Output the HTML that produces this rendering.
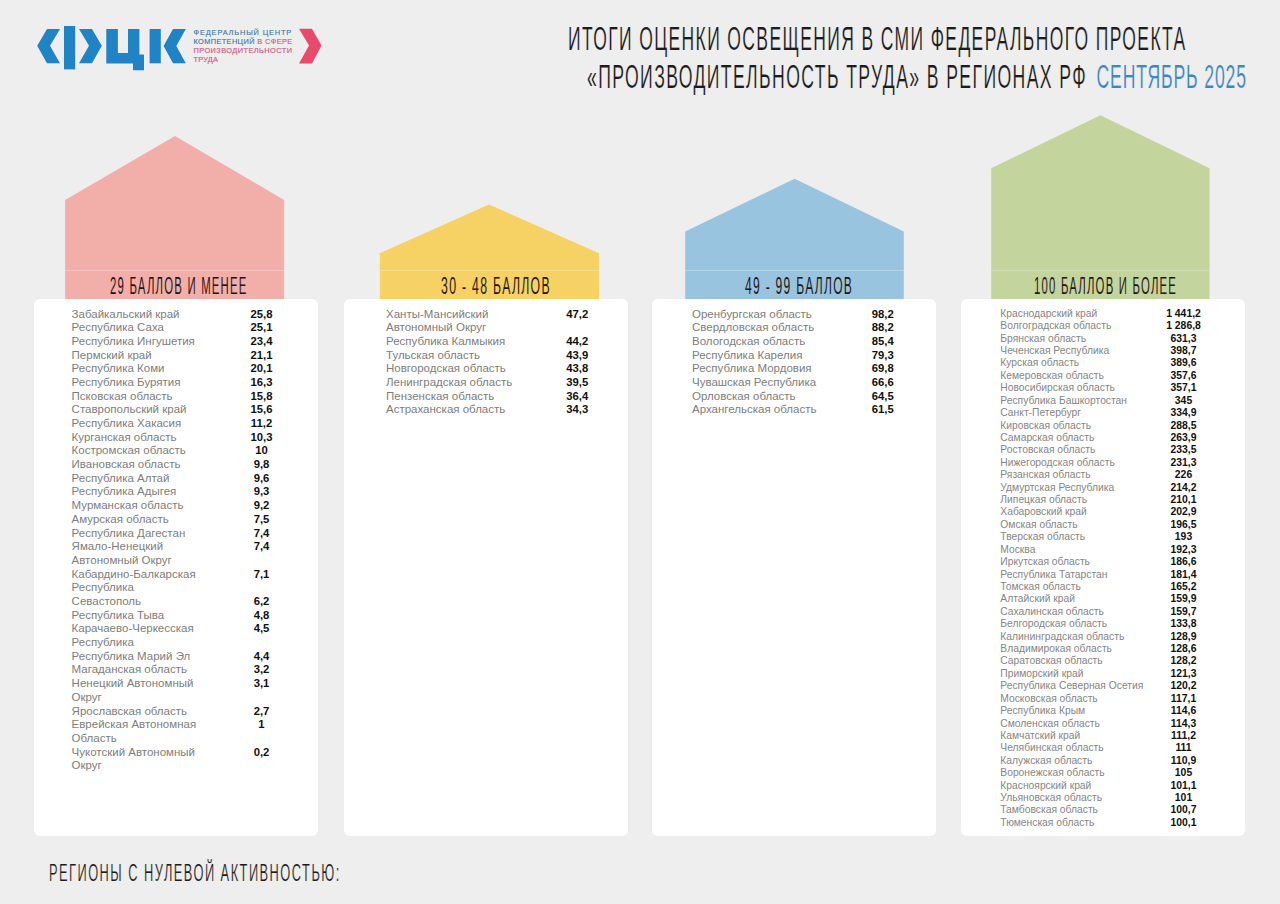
<!DOCTYPE html>
<html><head><meta charset="utf-8">
<style>
html,body{margin:0;padding:0}
body{width:1280px;height:904px;background:#eeeeee;position:relative;overflow:hidden;font-family:"Liberation Sans",sans-serif}
.abs{position:absolute}
.card{position:absolute;background:#fff;border-radius:6px;top:299.3px;height:536.5px;width:284px}
.r1{position:absolute;height:13.69px;line-height:13.69px;font-size:11.5px;white-space:nowrap}
.r4{position:absolute;height:12.415px;line-height:12.415px;font-size:10.3px;white-space:nowrap}
.n{color:#7d7d7d}
.r4.n{color:#858585}
.r1.n{transform:scaleX(1.0);transform-origin:0 0}
.r4.n{transform:scaleX(1.0);transform-origin:0 0}
.v{color:#111;font-weight:bold;width:120px;text-align:center}
.r1.v{font-size:11.3px}
.r4.v{font-size:10.4px}
.cond{position:absolute;white-space:nowrap;transform-origin:0 0;letter-spacing:2.6px;color:#1c1c1c;font-weight:normal;-webkit-text-stroke:0.2px #eeeeee}
.lt{position:absolute;white-space:nowrap;font-weight:normal;-webkit-text-stroke:0.15px currentColor;font-size:7.4px;line-height:9.3px;transform-origin:0 0}
</style></head><body>
<svg class="abs" style="left:0;top:0" width="1280" height="904" viewBox="0 0 1280 904">
<g fill="#1f83c6">
<polygon points="47,29 60,29 50,45.8 60,63.3 47,63.3 37.2,45.8"/>
<rect x="64" y="26" width="11.2" height="43.4"/>
<polygon points="79,29 92,29 101.8,45.8 92,63.3 79,63.3 89,45.8"/>
<polygon points="106.3,29 117.9,29 117.9,53 128,53 128,29 139.4,29 139.4,54.5 144,54.5 144,70.3 133,70.3 133,63.6 106.3,63.6"/>
<rect x="149.6" y="29" width="11.2" height="34.3"/>
<polygon points="173,29 185.8,29 176.3,46 185.8,63.3 173,63.3 163.6,46"/>
</g>
<polygon fill="#e84a6c" points="299,28.8 312,28.8 321.5,45.5 312,63.4 299,63.4 309,45.5"/>
<polygon fill="#f2aea8" points="65.1,200 175,136 284.1,200 284.1,300 65.1,300"/>
<polygon fill="#f5d263" points="379.8,253.3 489,204.5 599,253.3 599,300 379.8,300"/>
<polygon fill="#98c4df" points="685.2,231.5 794.6,178.7 903.8,231.5 903.8,300 685.2,300"/>
<polygon fill="#c3d59d" points="991.2,168.2 1100.4,115.3 1209.6,168.2 1209.6,300 991.2,300"/>
<g fill="#ffffff" fill-opacity="0.25">
<rect x="65.1" y="270" width="219" height="1"/>
<rect x="379.8" y="270" width="219.2" height="1"/>
<rect x="685.2" y="270" width="218.6" height="1"/>
<rect x="991.2" y="270" width="218.4" height="1"/>
</g>
</svg>
<div class="lt" style="left:193.5px;top:27.8px;color:#3d7aa5;letter-spacing:0.85px">ФЕДЕРАЛЬНЫЙ ЦЕНТР</div>
<div class="lt" style="left:193.5px;top:37.1px;color:#3d7aa5;letter-spacing:0.37px">КОМПЕТЕНЦИЙ <span style="color:#d0587c">В СФЕРЕ</span></div>
<div class="lt" style="left:193.5px;top:46.400000000000006px;color:#d0587c;letter-spacing:0.42px">ПРОИЗВОДИТЕЛЬНОСТИ</div>
<div class="lt" style="left:193.5px;top:55.3px;color:#d0587c;letter-spacing:0.2px">ТРУДА</div>

<div class="cond" style="left:568px;top:19.8px;font-size:33px;transform:scaleX(0.53)">ИТОГИ ОЦЕНКИ ОСВЕЩЕНИЯ В СМИ ФЕДЕРАЛЬНОГО ПРОЕКТА</div>
<div class="cond" style="left:587px;top:57.8px;font-size:33px;transform:scaleX(0.534)">«ПРОИЗВОДИТЕЛЬНОСТЬ ТРУДА» В РЕГИОНАХ РФ <span style="color:#3d87c2;margin-left:6px;letter-spacing:1.6px">СЕНТЯБРЬ 2025</span></div>

<div class="cond" style="left:110px;top:271.8px;font-size:24.5px;transform:scaleX(0.464);color:#1e1414;-webkit-text-stroke:0.1px #f2aea8">29 БАЛЛОВ И МЕНЕЕ</div>
<div class="cond" style="left:441px;top:271.8px;font-size:24.5px;transform:scaleX(0.501);color:#1e1414;-webkit-text-stroke:0.1px #f5d263">30 - 48 БАЛЛОВ</div>
<div class="cond" style="left:745px;top:271.8px;font-size:24.5px;transform:scaleX(0.493);color:#1e1414;-webkit-text-stroke:0.1px #98c4df">49 - 99 БАЛЛОВ</div>
<div class="cond" style="left:1034px;top:271.8px;font-size:24.5px;transform:scaleX(0.463);color:#1e1414;-webkit-text-stroke:0.1px #c3d59d">100 БАЛЛОВ И БОЛЕЕ</div>

<div class="card" style="left:34.3px"></div>
<div class="card" style="left:343.6px"></div>
<div class="card" style="left:652px"></div>
<div class="card" style="left:960.8px"></div>

<div class="r1 n" style="left:71.6px;top:307.50px">Забайкальский край</div>
<div class="r1 v" style="left:201.5px;top:307.50px">25,8</div>
<div class="r1 n" style="left:71.6px;top:321.19px">Республика Саха</div>
<div class="r1 v" style="left:201.5px;top:321.19px">25,1</div>
<div class="r1 n" style="left:71.6px;top:334.88px">Республика Ингушетия</div>
<div class="r1 v" style="left:201.5px;top:334.88px">23,4</div>
<div class="r1 n" style="left:71.6px;top:348.57px">Пермский край</div>
<div class="r1 v" style="left:201.5px;top:348.57px">21,1</div>
<div class="r1 n" style="left:71.6px;top:362.26px">Республика Коми</div>
<div class="r1 v" style="left:201.5px;top:362.26px">20,1</div>
<div class="r1 n" style="left:71.6px;top:375.95px">Республика Бурятия</div>
<div class="r1 v" style="left:201.5px;top:375.95px">16,3</div>
<div class="r1 n" style="left:71.6px;top:389.64px">Псковская область</div>
<div class="r1 v" style="left:201.5px;top:389.64px">15,8</div>
<div class="r1 n" style="left:71.6px;top:403.33px">Ставропольский край</div>
<div class="r1 v" style="left:201.5px;top:403.33px">15,6</div>
<div class="r1 n" style="left:71.6px;top:417.02px">Республика Хакасия</div>
<div class="r1 v" style="left:201.5px;top:417.02px">11,2</div>
<div class="r1 n" style="left:71.6px;top:430.71px">Курганская область</div>
<div class="r1 v" style="left:201.5px;top:430.71px">10,3</div>
<div class="r1 n" style="left:71.6px;top:444.40px">Костромская область</div>
<div class="r1 v" style="left:201.5px;top:444.40px">10</div>
<div class="r1 n" style="left:71.6px;top:458.09px">Ивановская область</div>
<div class="r1 v" style="left:201.5px;top:458.09px">9,8</div>
<div class="r1 n" style="left:71.6px;top:471.78px">Республика Алтай</div>
<div class="r1 v" style="left:201.5px;top:471.78px">9,6</div>
<div class="r1 n" style="left:71.6px;top:485.47px">Республика Адыгея</div>
<div class="r1 v" style="left:201.5px;top:485.47px">9,3</div>
<div class="r1 n" style="left:71.6px;top:499.16px">Мурманская область</div>
<div class="r1 v" style="left:201.5px;top:499.16px">9,2</div>
<div class="r1 n" style="left:71.6px;top:512.85px">Амурская область</div>
<div class="r1 v" style="left:201.5px;top:512.85px">7,5</div>
<div class="r1 n" style="left:71.6px;top:526.54px">Республика Дагестан</div>
<div class="r1 v" style="left:201.5px;top:526.54px">7,4</div>
<div class="r1 n" style="left:71.6px;top:540.23px">Ямало-Ненецкий</div>
<div class="r1 v" style="left:201.5px;top:540.23px">7,4</div>
<div class="r1 n" style="left:71.6px;top:553.92px">Автономный Округ</div>
<div class="r1 n" style="left:71.6px;top:567.61px">Кабардино-Балкарская</div>
<div class="r1 v" style="left:201.5px;top:567.61px">7,1</div>
<div class="r1 n" style="left:71.6px;top:581.30px">Республика</div>
<div class="r1 n" style="left:71.6px;top:594.99px">Севастополь</div>
<div class="r1 v" style="left:201.5px;top:594.99px">6,2</div>
<div class="r1 n" style="left:71.6px;top:608.68px">Республика Тыва</div>
<div class="r1 v" style="left:201.5px;top:608.68px">4,8</div>
<div class="r1 n" style="left:71.6px;top:622.37px">Карачаево-Черкесская</div>
<div class="r1 v" style="left:201.5px;top:622.37px">4,5</div>
<div class="r1 n" style="left:71.6px;top:636.06px">Республика</div>
<div class="r1 n" style="left:71.6px;top:649.75px">Республика Марий Эл</div>
<div class="r1 v" style="left:201.5px;top:649.75px">4,4</div>
<div class="r1 n" style="left:71.6px;top:663.44px">Магаданская область</div>
<div class="r1 v" style="left:201.5px;top:663.44px">3,2</div>
<div class="r1 n" style="left:71.6px;top:677.13px">Ненецкий Автономный</div>
<div class="r1 v" style="left:201.5px;top:677.13px">3,1</div>
<div class="r1 n" style="left:71.6px;top:690.82px">Округ</div>
<div class="r1 n" style="left:71.6px;top:704.51px">Ярославская область</div>
<div class="r1 v" style="left:201.5px;top:704.51px">2,7</div>
<div class="r1 n" style="left:71.6px;top:718.20px">Еврейская Автономная</div>
<div class="r1 v" style="left:201.5px;top:718.20px">1</div>
<div class="r1 n" style="left:71.6px;top:731.89px">Область</div>
<div class="r1 n" style="left:71.6px;top:745.58px">Чукотский Автономный</div>
<div class="r1 v" style="left:201.5px;top:745.58px">0,2</div>
<div class="r1 n" style="left:71.6px;top:759.27px">Округ</div>
<div class="r1 n" style="left:386px;top:307.50px">Ханты-Мансийский</div>
<div class="r1 v" style="left:517.2px;top:307.50px">47,2</div>
<div class="r1 n" style="left:386px;top:321.19px">Автономный Округ</div>
<div class="r1 n" style="left:386px;top:334.88px">Республика Калмыкия</div>
<div class="r1 v" style="left:517.2px;top:334.88px">44,2</div>
<div class="r1 n" style="left:386px;top:348.57px">Тульская область</div>
<div class="r1 v" style="left:517.2px;top:348.57px">43,9</div>
<div class="r1 n" style="left:386px;top:362.26px">Новгородская область</div>
<div class="r1 v" style="left:517.2px;top:362.26px">43,8</div>
<div class="r1 n" style="left:386px;top:375.95px">Ленинградская область</div>
<div class="r1 v" style="left:517.2px;top:375.95px">39,5</div>
<div class="r1 n" style="left:386px;top:389.64px">Пензенская область</div>
<div class="r1 v" style="left:517.2px;top:389.64px">36,4</div>
<div class="r1 n" style="left:386px;top:403.33px">Астраханская область</div>
<div class="r1 v" style="left:517.2px;top:403.33px">34,3</div>
<div class="r1 n" style="left:692px;top:307.50px">Оренбургская область</div>
<div class="r1 v" style="left:822.7px;top:307.50px">98,2</div>
<div class="r1 n" style="left:692px;top:321.19px">Свердловская область</div>
<div class="r1 v" style="left:822.7px;top:321.19px">88,2</div>
<div class="r1 n" style="left:692px;top:334.88px">Вологодская область</div>
<div class="r1 v" style="left:822.7px;top:334.88px">85,4</div>
<div class="r1 n" style="left:692px;top:348.57px">Республика Карелия</div>
<div class="r1 v" style="left:822.7px;top:348.57px">79,3</div>
<div class="r1 n" style="left:692px;top:362.26px">Республика Мордовия</div>
<div class="r1 v" style="left:822.7px;top:362.26px">69,8</div>
<div class="r1 n" style="left:692px;top:375.95px">Чувашская Республика</div>
<div class="r1 v" style="left:822.7px;top:375.95px">66,6</div>
<div class="r1 n" style="left:692px;top:389.64px">Орловская область</div>
<div class="r1 v" style="left:822.7px;top:389.64px">64,5</div>
<div class="r1 n" style="left:692px;top:403.33px">Архангельская область</div>
<div class="r1 v" style="left:822.7px;top:403.33px">61,5</div>
<div class="r4 n" style="left:1000.3px;top:307.80px">Краснодарский край</div>
<div class="r4 v" style="left:1123.5px;top:307.80px">1 441,2</div>
<div class="r4 n" style="left:1000.3px;top:320.22px">Волгоградская область</div>
<div class="r4 v" style="left:1123.5px;top:320.22px">1 286,8</div>
<div class="r4 n" style="left:1000.3px;top:332.63px">Брянская область</div>
<div class="r4 v" style="left:1123.5px;top:332.63px">631,3</div>
<div class="r4 n" style="left:1000.3px;top:345.05px">Чеченская Республика</div>
<div class="r4 v" style="left:1123.5px;top:345.05px">398,7</div>
<div class="r4 n" style="left:1000.3px;top:357.46px">Курская область</div>
<div class="r4 v" style="left:1123.5px;top:357.46px">389,6</div>
<div class="r4 n" style="left:1000.3px;top:369.88px">Кемеровская область</div>
<div class="r4 v" style="left:1123.5px;top:369.88px">357,6</div>
<div class="r4 n" style="left:1000.3px;top:382.29px">Новосибирская область</div>
<div class="r4 v" style="left:1123.5px;top:382.29px">357,1</div>
<div class="r4 n" style="left:1000.3px;top:394.71px">Республика Башкортостан</div>
<div class="r4 v" style="left:1123.5px;top:394.71px">345</div>
<div class="r4 n" style="left:1000.3px;top:407.12px">Санкт-Петербург</div>
<div class="r4 v" style="left:1123.5px;top:407.12px">334,9</div>
<div class="r4 n" style="left:1000.3px;top:419.53px">Кировская область</div>
<div class="r4 v" style="left:1123.5px;top:419.53px">288,5</div>
<div class="r4 n" style="left:1000.3px;top:431.95px">Самарская область</div>
<div class="r4 v" style="left:1123.5px;top:431.95px">263,9</div>
<div class="r4 n" style="left:1000.3px;top:444.37px">Ростовская область</div>
<div class="r4 v" style="left:1123.5px;top:444.37px">233,5</div>
<div class="r4 n" style="left:1000.3px;top:456.78px">Нижегородская область</div>
<div class="r4 v" style="left:1123.5px;top:456.78px">231,3</div>
<div class="r4 n" style="left:1000.3px;top:469.19px">Рязанская область</div>
<div class="r4 v" style="left:1123.5px;top:469.19px">226</div>
<div class="r4 n" style="left:1000.3px;top:481.61px">Удмуртская Республика</div>
<div class="r4 v" style="left:1123.5px;top:481.61px">214,2</div>
<div class="r4 n" style="left:1000.3px;top:494.02px">Липецкая область</div>
<div class="r4 v" style="left:1123.5px;top:494.02px">210,1</div>
<div class="r4 n" style="left:1000.3px;top:506.44px">Хабаровский край</div>
<div class="r4 v" style="left:1123.5px;top:506.44px">202,9</div>
<div class="r4 n" style="left:1000.3px;top:518.86px">Омская область</div>
<div class="r4 v" style="left:1123.5px;top:518.86px">196,5</div>
<div class="r4 n" style="left:1000.3px;top:531.27px">Тверская область</div>
<div class="r4 v" style="left:1123.5px;top:531.27px">193</div>
<div class="r4 n" style="left:1000.3px;top:543.68px">Москва</div>
<div class="r4 v" style="left:1123.5px;top:543.68px">192,3</div>
<div class="r4 n" style="left:1000.3px;top:556.10px">Иркутская область</div>
<div class="r4 v" style="left:1123.5px;top:556.10px">186,6</div>
<div class="r4 n" style="left:1000.3px;top:568.51px">Республика Татарстан</div>
<div class="r4 v" style="left:1123.5px;top:568.51px">181,4</div>
<div class="r4 n" style="left:1000.3px;top:580.93px">Томская область</div>
<div class="r4 v" style="left:1123.5px;top:580.93px">165,2</div>
<div class="r4 n" style="left:1000.3px;top:593.35px">Алтайский край</div>
<div class="r4 v" style="left:1123.5px;top:593.35px">159,9</div>
<div class="r4 n" style="left:1000.3px;top:605.76px">Сахалинская область</div>
<div class="r4 v" style="left:1123.5px;top:605.76px">159,7</div>
<div class="r4 n" style="left:1000.3px;top:618.17px">Белгородская область</div>
<div class="r4 v" style="left:1123.5px;top:618.17px">133,8</div>
<div class="r4 n" style="left:1000.3px;top:630.59px">Калининградская область</div>
<div class="r4 v" style="left:1123.5px;top:630.59px">128,9</div>
<div class="r4 n" style="left:1000.3px;top:643.00px">Владимирокая область</div>
<div class="r4 v" style="left:1123.5px;top:643.00px">128,6</div>
<div class="r4 n" style="left:1000.3px;top:655.42px">Саратовская область</div>
<div class="r4 v" style="left:1123.5px;top:655.42px">128,2</div>
<div class="r4 n" style="left:1000.3px;top:667.84px">Приморский край</div>
<div class="r4 v" style="left:1123.5px;top:667.84px">121,3</div>
<div class="r4 n" style="left:1000.3px;top:680.25px">Республика Северная Осетия</div>
<div class="r4 v" style="left:1123.5px;top:680.25px">120,2</div>
<div class="r4 n" style="left:1000.3px;top:692.66px">Московская область</div>
<div class="r4 v" style="left:1123.5px;top:692.66px">117,1</div>
<div class="r4 n" style="left:1000.3px;top:705.08px">Республика Крым</div>
<div class="r4 v" style="left:1123.5px;top:705.08px">114,6</div>
<div class="r4 n" style="left:1000.3px;top:717.50px">Смоленская область</div>
<div class="r4 v" style="left:1123.5px;top:717.50px">114,3</div>
<div class="r4 n" style="left:1000.3px;top:729.91px">Камчатский край</div>
<div class="r4 v" style="left:1123.5px;top:729.91px">111,2</div>
<div class="r4 n" style="left:1000.3px;top:742.33px">Челябинская область</div>
<div class="r4 v" style="left:1123.5px;top:742.33px">111</div>
<div class="r4 n" style="left:1000.3px;top:754.74px">Калужская область</div>
<div class="r4 v" style="left:1123.5px;top:754.74px">110,9</div>
<div class="r4 n" style="left:1000.3px;top:767.15px">Воронежская область</div>
<div class="r4 v" style="left:1123.5px;top:767.15px">105</div>
<div class="r4 n" style="left:1000.3px;top:779.57px">Красноярский край</div>
<div class="r4 v" style="left:1123.5px;top:779.57px">101,1</div>
<div class="r4 n" style="left:1000.3px;top:791.98px">Ульяновская область</div>
<div class="r4 v" style="left:1123.5px;top:791.98px">101</div>
<div class="r4 n" style="left:1000.3px;top:804.40px">Тамбовская область</div>
<div class="r4 v" style="left:1123.5px;top:804.40px">100,7</div>
<div class="r4 n" style="left:1000.3px;top:816.82px">Тюменская область</div>
<div class="r4 v" style="left:1123.5px;top:816.82px">100,1</div>

<div class="cond" style="left:49px;top:860px;font-size:23px;transform:scaleX(0.559)">РЕГИОНЫ С НУЛЕВОЙ АКТИВНОСТЬЮ:</div>
</body></html>
